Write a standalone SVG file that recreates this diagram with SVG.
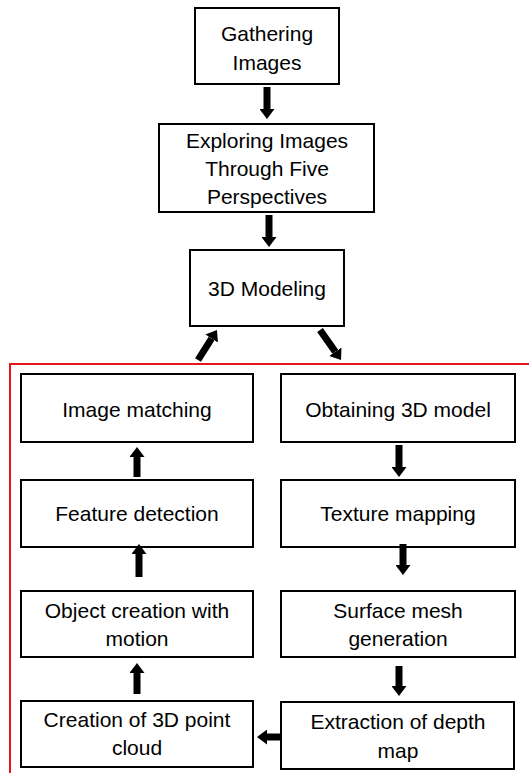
<svg xmlns="http://www.w3.org/2000/svg" width="529" height="773" viewBox="0 0 529 773">
<style>
.box{fill:#fff;stroke:#000;stroke-width:2}
.t{font-family:"Liberation Sans",Arial,sans-serif;font-size:21px;fill:#000;text-anchor:middle}
.arr{stroke:#000;stroke-width:7;fill:none;marker-end:url(#head)}
.frame{fill:none;stroke:#e8141c;stroke-width:2}
</style>
<defs>
<marker id="head" viewBox="0 0 10 15" refX="0" refY="7.5" markerWidth="10" markerHeight="15" markerUnits="userSpaceOnUse" orient="auto">
<path d="M0,0 L10,7.5 L0,15 Z" fill="#000"/>
</marker>
</defs>
<rect width="529" height="773" fill="#fff"/>
<polyline class="frame" points="529,364 10,364 10,773"/>
<g id="gathering"><rect class="box" x="195" y="8" width="144" height="76"/><text class="t" x="267" y="41">Gathering</text><text class="t" x="267" y="70">Images</text></g>
<g id="exploring"><rect class="box" x="159" y="124" width="215" height="88"/><text class="t" x="267" y="148">Exploring Images</text><text class="t" x="267" y="176">Through Five</text><text class="t" x="267" y="204">Perspectives</text></g>
<g id="modeling"><rect class="box" x="190" y="250" width="154" height="76"/><text class="t" x="267" y="296">3D Modeling</text></g>
<g id="image-matching"><rect class="box" x="21" y="374" width="232" height="68"/><text class="t" x="137" y="417">Image matching</text></g>
<g id="obtaining"><rect class="box" x="281" y="374" width="234" height="68"/><text class="t" x="398" y="417">Obtaining 3D model</text></g>
<g id="feature-detection"><rect class="box" x="21" y="480" width="232" height="67"/><text class="t" x="137" y="521">Feature detection</text></g>
<g id="texture"><rect class="box" x="281" y="480" width="234" height="67"/><text class="t" x="398" y="521">Texture mapping</text></g>
<g id="object-creation"><rect class="box" x="21" y="591" width="232" height="66"/><text class="t" x="137" y="618">Object creation with</text><text class="t" x="137" y="646">motion</text></g>
<g id="surface-mesh"><rect class="box" x="281" y="591" width="234" height="66"/><text class="t" x="398" y="618">Surface mesh</text><text class="t" x="398" y="646">generation</text></g>
<g id="point-cloud"><rect class="box" x="21" y="701" width="232" height="66"/><text class="t" x="137" y="727">Creation of 3D point</text><text class="t" x="137" y="755">cloud</text></g>
<g id="depth-map"><rect class="box" x="281" y="702" width="233" height="67"/><text class="t" x="398" y="729">Extraction of depth</text><text class="t" x="398" y="758">map</text></g>
<g id="connectors">
<line class="arr" x1="267" y1="87" x2="267" y2="109"/>
<line class="arr" x1="269" y1="215" x2="269" y2="237"/>
<line class="arr" x1="198" y1="360" x2="211.6" y2="338.5"/>
<line class="arr" x1="320" y1="330" x2="335.3" y2="351.8"/>
<line class="arr" x1="137" y1="477" x2="137" y2="457"/>
<line class="arr" x1="399" y1="445" x2="399" y2="467"/>
<line class="arr" x1="139" y1="577" x2="139" y2="554"/>
<line class="arr" x1="403" y1="544" x2="403" y2="565"/>
<line class="arr" x1="137" y1="694" x2="137" y2="673"/>
<line class="arr" x1="399" y1="666" x2="399" y2="686"/>
<line class="arr" x1="281" y1="737" x2="267" y2="737"/>
</g>
</svg>
